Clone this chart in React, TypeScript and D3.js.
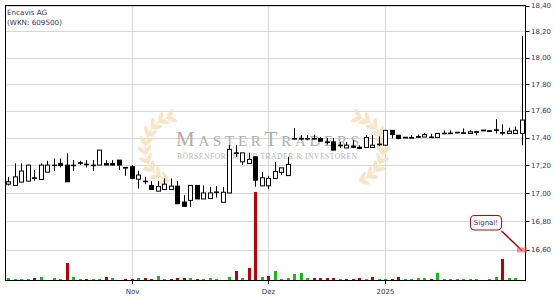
import React from 'react';
import * as d3 from 'd3';

// Encavis AG daily candles, 1 Oct 2024 .. 31 Jan 2025 (Xetra)
const openPrices = [
  17.064, 17.055, 17.079, 17.086, 17.110, 17.098, 17.151, 17.202, 17.214, 17.202,
  17.202, 17.219, 17.209, 17.202, 17.202, 17.213, 17.213, 17.238, 17.185, 17.190,
  17.100, 17.086, 17.055, 17.014, 17.026, 17.026, 17.050, 16.936, 16.948, 17.055,
  16.958, 16.961, 17.008, 16.934, 17.001, 17.291, 17.226, 17.214, 17.262, 17.052,
  17.052, 17.106, 17.149, 17.126, 17.396, 17.396, 17.396, 17.396, 17.396, 17.371,
  17.371, 17.347, 17.327, 17.340, 17.332, 17.330, 17.330, 17.355, 17.347, 17.456,
  17.420, 17.405, 17.403, 17.410, 17.407, 17.407, 17.403, 17.435, 17.436, 17.442,
  17.438, 17.433, 17.446, 17.458, 17.453, 17.460, 17.440, 17.433, 17.433, 17.434,
];
const highPrices = [
  17.117, 17.214, 17.214, 17.205, 17.166, 17.214, 17.233, 17.250, 17.250, 17.287,
  17.238, 17.233, 17.238, 17.238, 17.311, 17.238, 17.238, 17.238, 17.185, 17.202,
  17.161, 17.117, 17.086, 17.086, 17.106, 17.106, 17.086, 16.985, 17.055, 17.055,
  17.055, 17.045, 17.050, 17.045, 17.347, 17.347, 17.291, 17.291, 17.262, 17.153,
  17.124, 17.224, 17.182, 17.262, 17.472, 17.420, 17.420, 17.425, 17.407, 17.400,
  17.400, 17.371, 17.371, 17.383, 17.347, 17.420, 17.420, 17.412, 17.456, 17.456,
  17.420, 17.405, 17.420, 17.425, 17.436, 17.431, 17.433, 17.456, 17.456, 17.442,
  17.470, 17.456, 17.446, 17.458, 17.453, 17.538, 17.500, 17.475, 17.485, 18.165,
];
const lowPrices = [
  17.055, 17.055, 17.079, 17.086, 17.088, 17.098, 17.151, 17.159, 17.185, 17.081,
  17.159, 17.202, 17.185, 17.159, 17.202, 17.202, 17.200, 17.166, 17.124, 17.100,
  17.033, 17.064, 17.026, 17.014, 17.026, 17.026, 16.924, 16.905, 16.900, 16.958,
  16.958, 16.961, 16.968, 16.934, 17.001, 17.262, 17.202, 17.214, 17.045, 17.052,
  17.028, 17.106, 17.130, 17.126, 17.396, 17.383, 17.383, 17.396, 17.376, 17.352,
  17.311, 17.327, 17.325, 17.327, 17.318, 17.330, 17.330, 17.340, 17.347, 17.396,
  17.390, 17.398, 17.403, 17.405, 17.407, 17.407, 17.403, 17.435, 17.436, 17.437,
  17.438, 17.433, 17.420, 17.452, 17.450, 17.433, 17.420, 17.433, 17.433, 17.346,
];
const closePrices = [
  17.081, 17.117, 17.159, 17.202, 17.105, 17.202, 17.202, 17.202, 17.200, 17.081,
  17.202, 17.219, 17.209, 17.202, 17.311, 17.202, 17.202, 17.202, 17.185, 17.106,
  17.130, 17.086, 17.026, 17.048, 17.064, 17.050, 16.924, 16.905, 17.055, 16.958,
  17.001, 17.001, 17.008, 17.006, 17.316, 17.291, 17.291, 17.243, 17.093, 17.110,
  17.106, 17.156, 17.182, 17.207, 17.396, 17.396, 17.396, 17.396, 17.376, 17.371,
  17.311, 17.347, 17.347, 17.332, 17.323, 17.403, 17.347, 17.350, 17.456, 17.425,
  17.396, 17.400, 17.403, 17.405, 17.424, 17.407, 17.433, 17.435, 17.436, 17.437,
  17.438, 17.445, 17.446, 17.452, 17.453, 17.455, 17.440, 17.450, 17.456, 17.532,
];
// traded shares per day and whether the close was above (1) or below (-1) the prior close
const volumes = [
  1000, 500, 500, 500, 1000, 1500, 0, 1000, 500, 8500,
  1500, 500, 500, 500, 500, 1500, 1000, 0, 500, 500,
  1000, 1000, 500, 2000, 500, 500, 1000, 1000, 1000, 500,
  500, 1000, 500, 0, 1500, 4500, 1000, 6000, 44000, 1500,
  2000, 4500, 500, 1000, 3000, 3500, 1000, 1000, 1000, 1000,
  1000, 500, 500, 500, 1000, 500, 1500, 500, 500, 500,
  1500, 500, 500, 1000, 1000, 500, 3500, 500, 500, 500,
  500, 500, 500, 0, 500, 1500, 10500, 1000, 1000, 0,
];
const volumeDir = [
  1, 1, 1, 1, -1, 1, 1, 1, 1, -1,
  1, 1, -1, 1, 1, -1, 1, 1, -1, -1,
  1, -1, -1, 1, 1, -1, -1, -1, 1, -1,
  1, 1, 1, 1, 1, -1, 1, -1, -1, 1,
  -1, 1, 1, 1, 1, 1, 1, -1, -1, -1,
  -1, 1, -1, -1, -1, 1, -1, 1, 1, -1,
  -1, 1, 1, 1, 1, -1, 1, 1, 1, 1,
  1, 1, 1, 1, 1, 1, -1, 1, 1, 1,
];
const monthTicks = [
  { label: 'Nov', index: 19 },
  { label: 'Dez', index: 40 },
  { label: '2025', index: 58 },
];
const priceTicks = [16.6, 16.8, 17.0, 17.2, 17.4, 17.6, 17.8, 18.0, 18.2, 18.4];
const signalLabel = 'Signal!';
const titleLines = ['Encavis AG', '(WKN: 609500)'];

const LEFT = 5;
const RIGHT = 525;
const TOP = 5.5;
const BOTTOM = 280;
const TEXT = '#333366';
const LEAF = '#f9e0bb';

function Laurel({ cx, cy, r }: { cx: number; cy: number; r: number }) {
  const leaves: React.ReactNode[] = [];
  const a0 = 108;
  const a1 = 252;
  const n = 9;
  for (let k = 0; k <= n; k++) {
    const th = ((a0 + ((a1 - a0) * k) / n) * Math.PI) / 180;
    const px = cx + r * Math.cos(th);
    const py = cy + r * Math.sin(th);
    const phi = (th * 180) / Math.PI + 90;
    [-40, 40].forEach((off, j) => {
      const ang = ((phi + off) * Math.PI) / 180;
      const lx = px + 4.5 * Math.cos(ang);
      const ly = py + 4.5 * Math.sin(ang);
      leaves.push(
        <ellipse
          key={`${k}-${j}`}
          cx={lx}
          cy={ly}
          rx={5.6}
          ry={2}
          transform={`rotate(${phi + off} ${lx} ${ly})`}
        />
      );
    });
  }
  const arc = d3.arc()({
    innerRadius: r,
    outerRadius: r,
    startAngle: ((a0 + 90) * Math.PI) / 180,
    endAngle: ((a1 + 90) * Math.PI) / 180,
  } as any);
  return (
    <g fill={LEAF} opacity={0.85}>
      <path d={arc || ''} transform={`translate(${cx},${cy})`} fill="none" stroke={LEAF} strokeWidth={1.2} />
      {leaves}
    </g>
  );
}

export default function App() {
  const x = d3.scaleLinear().domain([-0.5, openPrices.length - 0.5]).range([LEFT, RIGHT]);
  const y = d3.scaleLog().domain([16.388, 18.4]).range([BOTTOM, TOP]);
  const vh = d3.scaleLinear().domain([0, d3.max(volumes) as number]).range([0, 88]);
  const fmt = (v: number) => d3.format('.2f')(v).replace('.', ',');
  const px = (i: number) => Math.round(x(i));

  return (
    <svg
      width={555}
      height={300}
      style={{ position: 'absolute', left: 0, top: 0, background: '#fff' }}
      fontFamily="DejaVu Sans"
    >
      <rect x={0} y={0} width={555} height={300} fill="#fff" />

      {/* grid */}
      {priceTicks.map((t) => (
        <line key={t} x1={LEFT} x2={RIGHT} y1={Math.round(y(t)) + 0.5} y2={Math.round(y(t)) + 0.5} stroke="#d6d6d6" />
      ))}
      {monthTicks.map((m) => (
        <line key={m.label} x1={px(m.index) + 0.5} x2={px(m.index) + 0.5} y1={TOP} y2={BOTTOM} stroke="#d6d6d6" />
      ))}

      {/* watermark */}
      <Laurel cx={178} cy={149} r={33} />
      <g transform="translate(528,0) scale(-1,1)">
        <Laurel cx={178} cy={149} r={33} />
      </g>
      <text x={176} y={145.5} fontFamily="Liberation Serif" fill="#adadad" textLength={183} lengthAdjust="spacing">
        <tspan fontSize={21}>M</tspan>
        <tspan fontSize={15}>ASTER</tspan>
        <tspan fontSize={21}>T</tspan>
        <tspan fontSize={15}>RADERS</tspan>
      </text>
      <text x={177} y={158.5} fontFamily="Liberation Serif" fill="#b6b6b6" fontSize={7.6} textLength={180} lengthAdjust="spacing">
        BÖRSENFORUM FÜR TRADER &amp; INVESTOREN
      </text>

      {/* volume */}
      {volumes.map((v, i) =>
        v > 0 ? (
          <rect
            key={`v${i}`}
            x={px(i) - 1}
            y={BOTTOM - vh(v)}
            width={3}
            height={vh(v)}
            fill={volumeDir[i] > 0 ? '#10c010' : '#c00000'}
          />
        ) : null
      )}

      {/* candles */}
      {openPrices.map((o, i) => {
        const c = closePrices[i];
        const cx = px(i) + 0.5;
        const yTop = y(Math.max(o, c));
        const yBot = y(Math.min(o, c));
        const up = c >= o && c !== o;
        return (
          <g key={`c${i}`}>
            <line x1={cx} x2={cx} y1={y(highPrices[i])} y2={y(lowPrices[i])} stroke="#000" />
            <rect
              x={cx - 2}
              y={yTop}
              width={4}
              height={Math.max(0.6, yBot - yTop)}
              fill={up ? '#fff' : '#000'}
              stroke="#000"
              strokeWidth={1}
            />
          </g>
        );
      })}

      {/* frame */}
      <rect x={LEFT + 0.5} y={TOP} width={RIGHT - LEFT} height={BOTTOM - TOP + 0.5} fill="none" stroke="#000" />

      {/* price axis */}
      {priceTicks.map((t) => (
        <g key={`t${t}`}>
          <line x1={RIGHT + 0.5} x2={RIGHT + 4.5} y1={Math.round(y(t)) + 0.5} y2={Math.round(y(t)) + 0.5} stroke="#000" />
          <text x={531} y={y(t)} dy="0.36em" fontSize={7} fill={TEXT}>
            {fmt(t)}
          </text>
        </g>
      ))}

      {/* date axis */}
      {monthTicks.map((m) => (
        <g key={`m${m.label}`}>
          <line x1={px(m.index) + 0.5} x2={px(m.index) + 0.5} y1={BOTTOM} y2={BOTTOM + 4} stroke="#000" />
          <text x={px(m.index) + 0.5} y={294} fontSize={7} fill={TEXT} textAnchor="middle">
            {m.label}
          </text>
        </g>
      ))}

      {/* title */}
      <text x={7} y={15} fontSize={7.2} fill={TEXT}>
        {titleLines[0]}
      </text>
      <text x={7} y={25} fontSize={7.2} fill={TEXT}>
        {titleLines[1]}
      </text>

      {/* signal marker */}
      <line x1={501.5} y1={231} x2={522} y2={250.5} stroke="#990000" strokeWidth={1.4} />
      <rect x={517} y={247.5} width={10} height={5} fill="#f06060" opacity={0.65} />
      <rect x={470.5} y={215.5} width={31} height={14.5} rx={4} fill="#fff" stroke="#a01010" strokeWidth={1.1} />
      <text x={486} y={225.3} fontSize={7} fill={TEXT} textAnchor="middle">
        {signalLabel}
      </text>
    </svg>
  );
}
